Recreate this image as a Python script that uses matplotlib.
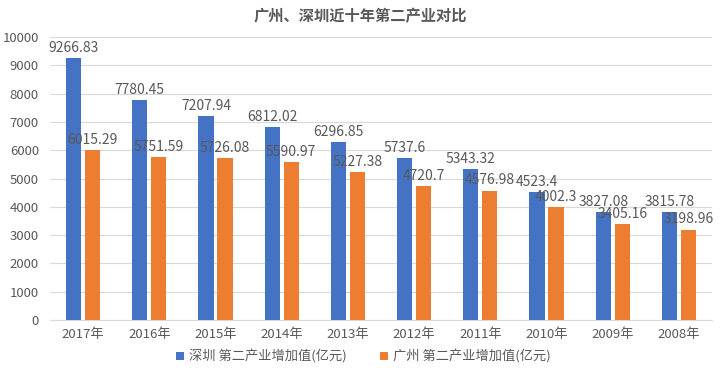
import matplotlib
matplotlib.use("Agg")
import matplotlib.pyplot as plt
import numpy as np

plt.rcParams['font.family'] = ['Noto Sans CJK SC', 'DejaVu Sans']

years = ["2017年", "2016年", "2015年", "2014年", "2013年", "2012年", "2011年", "2010年", "2009年", "2008年"]
shenzhen = [9266.83, 7780.45, 7207.94, 6812.02, 6296.85, 5737.6, 5343.32, 4523.4, 3827.08, 3815.78]
guangzhou = [6015.29, 5751.59, 5726.08, 5590.97, 5227.38, 4720.7, 4576.98, 4002.3, 3405.16, 3198.96]
sz_labels = ["9266.83", "7780.45", "7207.94", "6812.02", "6296.85", "5737.6", "5343.32", "4523.4", "3827.08", "3815.78"]
gz_labels = ["6015.29", "5751.59", "5726.08", "5590.97", "5227.38", "4720.7", "4576.98", "4002.3", "3405.16", "3198.96"]

blue = "#4472C4"
orange = "#ED7D31"
txt = "#595959"

fig = plt.figure(figsize=(7.2, 3.76), dpi=100)
ax = fig.add_axes([50 / 720, 0.149, 662 / 720, 0.752])

x = np.arange(len(years))
w = 0.227
gap = 0.06
off = (w + gap) / 2
ax.bar(x - off, shenzhen, w, color=blue, label="深圳 第二产业增加值(亿元)", zorder=3)
ax.bar(x + off, guangzhou, w, color=orange, label="广州 第二产业增加值(亿元)", zorder=3)

for i in range(len(years)):
    ax.text(x[i] - off, shenzhen[i] + 110, sz_labels[i], ha='center', va='bottom', fontsize=10, color=txt, zorder=4)
    ax.text(x[i] + off, guangzhou[i] + 110, gz_labels[i], ha='center', va='bottom', fontsize=10, color=txt, zorder=4)

ax.set_ylim(0, 10000)
ax.set_xlim(-0.5, len(years) - 0.5)
ax.set_yticks(np.arange(0, 10001, 1000))
ax.set_xticks(x)
ax.set_xticklabels(years)
ax.tick_params(axis='both', length=0, colors=txt, labelsize=9.5)
ax.tick_params(axis='x', pad=6)
ax.tick_params(axis='y', pad=8)
ax.grid(axis='y', color='#d9d9d9', linewidth=0.8, zorder=0)
for s in ['top', 'right', 'left']:
    ax.spines[s].set_visible(False)
ax.spines['bottom'].set_color('#d9d9d9')

fig.text(0.5, 0.958, "广州、深圳近十年第二产业对比", ha='center', va='center', fontsize=11, fontweight='bold', color=txt)

leg = fig.legend(loc='center', bbox_to_anchor=(0.505, 0.052), ncol=2, frameon=False, fontsize=9.5,
                 handlelength=0.6, handleheight=0.6, columnspacing=2.5, handletextpad=0.4)
for t in leg.get_texts():
    t.set_color(txt)

fig.savefig("out.png", dpi=100)
